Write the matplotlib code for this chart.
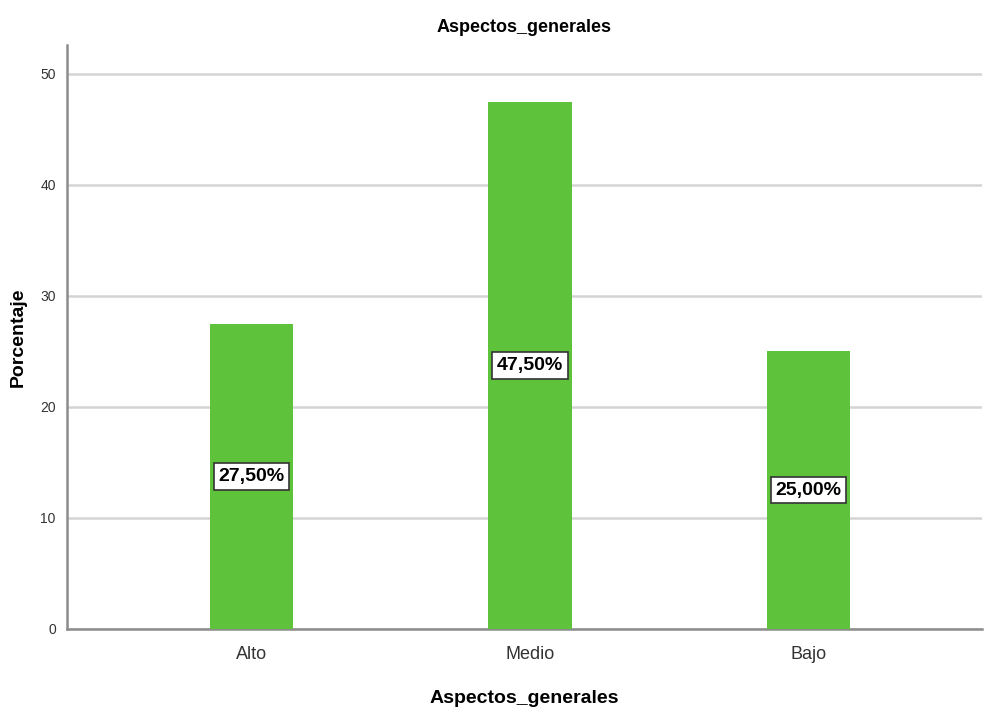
import numpy as np
import matplotlib
matplotlib.use("Agg")
import matplotlib.pyplot as plt

plt.rcParams['font.family'] = ['Liberation Sans', 'DejaVu Sans']

categorias = ['Alto', 'Medio', 'Bajo']
porcentajes = [27.5, 47.5, 25.0]
etiquetas = ['27,50%', '47,50%', '25,00%']

fig = plt.figure(figsize=(9.84, 7.13), dpi=100)
ax = fig.add_axes([0.068, 0.118, 0.93, 0.819])

x = np.arange(len(categorias))
ax.bar(x, porcentajes, width=0.3, color='#5ec23a', zorder=3)

# etiquetas de porcentaje en el centro de cada barra
for xi, v, txt in zip(x, porcentajes, etiquetas):
    ax.text(xi, v / 2, txt, ha='center', va='center', fontsize=14, fontweight='bold',
            zorder=4, bbox=dict(boxstyle='square,pad=0.25', fc='white', ec='#333333', lw=1.2))

ax.set_xlim(-0.6625, 2.623)
ax.set_ylim(0, 52.6)
ax.set_yticks([0, 10, 20, 30, 40, 50])
ax.set_xticks(x)
ax.set_xticklabels(categorias, fontsize=13, color='#333333')
ax.tick_params(axis='y', labelsize=10, length=0, pad=8, colors='#333333')
ax.tick_params(axis='x', length=0, pad=12)

ax.yaxis.grid(True, color='#d4d4d4', lw=1.8, zorder=0)
ax.set_axisbelow(True)
for s in ['top', 'right']:
    ax.spines[s].set_visible(False)
for s in ['left', 'bottom']:
    ax.spines[s].set_color('#8c8c8c')
    ax.spines[s].set_linewidth(1.8)

ax.set_title('Aspectos_generales', fontsize=13, fontweight='bold', pad=9)
fig.text(0.019, 0.527, 'Porcentaje', rotation=90, ha='center', va='center',
         fontsize=14, fontweight='bold')
ax.set_xlabel('Aspectos_generales', fontsize=14, fontweight='bold', labelpad=20)

fig.savefig('out.png', dpi=100)
